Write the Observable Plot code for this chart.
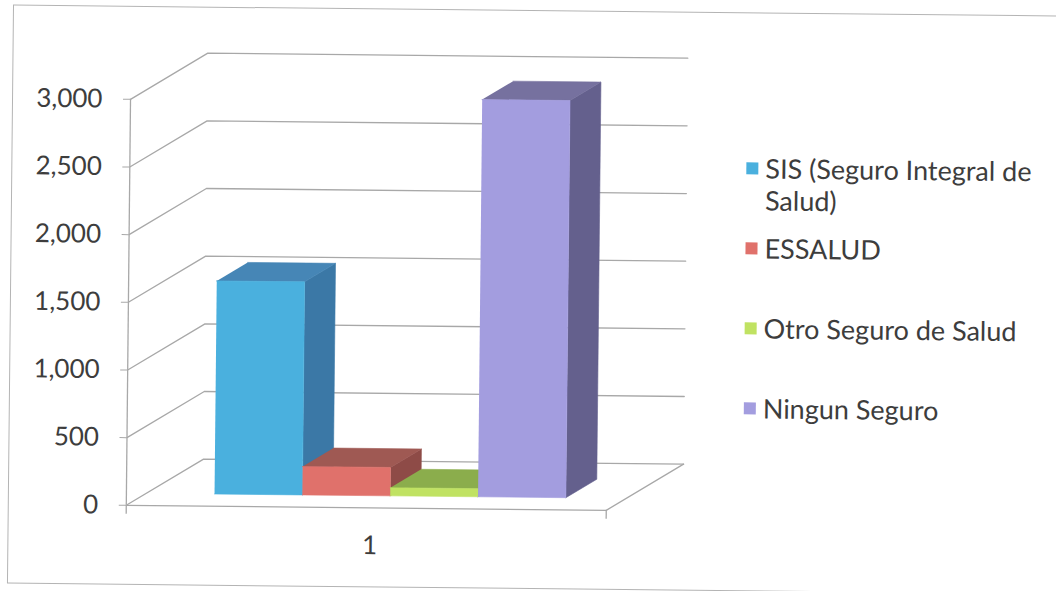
<!DOCTYPE html>
<html>
<head>
<meta charset="utf-8">
<script src="https://cdn.jsdelivr.net/npm/d3@7"></script>
<script src="https://cdn.jsdelivr.net/npm/@observablehq/plot@0.6"></script>
<style>
  html, body { margin: 0; padding: 0; background: #fff; width: 1056px; height: 591px; overflow: hidden; }
  #wrap { position: relative; width: 1056px; height: 591px; transform: rotate(0.6deg); transform-origin: 528px 295px; }
  #frame { position: absolute; left: 10px; top: 10px; width: 1120px; height: 579px; border: 1.5px solid #b4b4b4; box-sizing: border-box; }
  #chart { position: absolute; left: 0; top: 0; }
  #legend { position: absolute; left: 745px; top: 0; font-family: Lato, "Open Sans", sans-serif; font-size: 27px; color: #3d3d3d; }
  .item { position: absolute; left: 0; width: 300px; display: flex; align-items: flex-start; line-height: 32px; }
  .sw { width: 12px; height: 12px; margin-top: 10px; margin-right: 7px; flex: none; }
</style>
</head>
<body>
<div id="wrap">
  <div id="frame"></div>
  <div id="chart"></div>
  <div id="legend"></div>
</div>
<script>
// ---- data ----
const categories = ["SIS (Seguro Integral de Salud)", "ESSALUD", "Otro Seguro de Salud", "Ningun Seguro"];
const values = [1575, 210, 60, 2935];
const yTicks = [0, 500, 1000, 1500, 2000, 2500, 3000];
const xLabels = ["1"];

// ---- styles ----
const frontColors = ["#4ab0de", "#e0716b", "#c0e262", "#a39ddf"];
const sideColors  = ["#3b78a6", "#8e4b47", "#7c9c44", "#64608d"];
const topColors   = ["#4686b6", "#9f5953", "#8bad4c", "#76719f"];
const legendTops  = [150, 230, 310, 390];

// ---- pseudo-3D projection in data units ----
const KX = 1.6;     // depth offset along x (x units)
const KV = 347;     // depth offset along y (value units)
const XMAX = 10;
const p = (x, v, z) => ({x: x + z * KX, y: v + z * KV});

// grid / walls
const grid = [];
yTicks.forEach((t, i) => {
  [p(0, t, 0), p(0, t, 1), p(XMAX, t, 1)].forEach(q => grid.push({...q, id: "g" + i}));
});
[p(0, 0, 0), p(XMAX, 0, 0), p(XMAX, 0, 1)].forEach(q => grid.push({...q, id: "floor"}));

// bars
const X0 = 1.42, W = 1.83, Z0 = 0.26, Z1 = 0.66;
const faces = [];
values.forEach((v, i) => {
  const x0 = X0 + i * W, x1 = x0 + W;
  const side = [p(x1, 0, Z0), p(x1, 0, Z1), p(x1, v, Z1), p(x1, v, Z0)];
  const top = [p(x0, v, Z0), p(x1, v, Z0), p(x1, v, Z1), p(x0, v, Z1)];
  const front = [p(x0, 0, Z0), p(x1, 0, Z0), p(x1, v, Z0), p(x0, v, Z0)];
  side.forEach(q => faces.push({...q, id: i + "s", c: sideColors[i]}));
  top.forEach(q => faces.push({...q, id: i + "t", c: topColors[i]}));
  front.forEach(q => faces.push({...q, id: i + "f", c: frontColors[i]}));
});

const labelPos = xLabels.map((l) => ({...p(X0 + (values.length * W) / 2, 0, 0), label: l}));

const chart = Plot.plot({
  width: 720,
  height: 591,
  marginLeft: 128,
  marginRight: 112,
  marginTop: 103,
  marginBottom: 82,
  x: {domain: [0, XMAX], axis: null},
  y: {domain: [0, 3000], axis: null},
  color: {type: "identity"},
  style: {fontFamily: "Lato, 'Open Sans', sans-serif", background: "transparent"},
  marks: [
    Plot.line(grid, {x: "x", y: "y", z: "id", stroke: "#a8a8a8", strokeWidth: 1.3}),
    Plot.ruleX([0], {y1: 0, y2: 3000, stroke: "#a8a8a8", strokeWidth: 1.3}),
    Plot.ruleX([0, XMAX], {y1: 0, y2: 0, insetBottom: -9, stroke: "#a8a8a8", strokeWidth: 1.3}),
    Plot.axisY(yTicks, {anchor: "left", label: null, tickFormat: d3.format(","), tickSize: 7, tickPadding: 21,
      fontSize: 26, stroke: "#a8a8a8", fill: "#3d3d3d"}),
    Plot.line(faces, {x: "x", y: "y", z: "id", fill: "c", stroke: "c", strokeWidth: 0.6}),
    Plot.text(labelPos, {x: "x", y: "y", text: "label", dy: 38, fontSize: 26, fill: "#3d3d3d"})
  ]
});
document.getElementById("chart").append(chart);

// legend
const legend = document.getElementById("legend");
categories.forEach((c, i) => {
  const it = document.createElement("div");
  it.className = "item";
  it.style.top = legendTops[i] + "px";
  const sw = document.createElement("span");
  sw.className = "sw";
  sw.style.background = frontColors[i];
  const tx = document.createElement("span");
  tx.textContent = c;
  it.append(sw, tx);
  legend.append(it);
});
</script>
</body>
</html>
